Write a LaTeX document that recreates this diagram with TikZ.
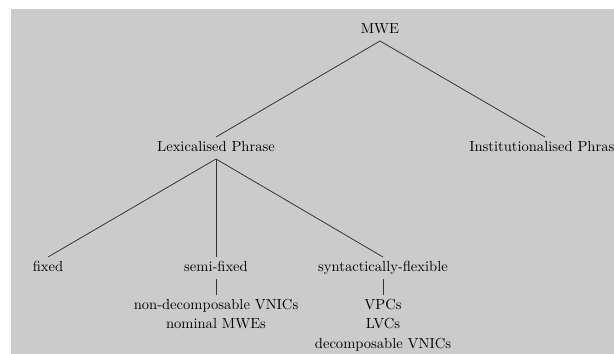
\documentclass[tikz,border=0pt]{standalone}
\usepackage{tikz}
\usetikzlibrary{positioning}
\definecolor{bgGray}{HTML}{CBCBCB}
\definecolor{lineDark}{HTML}{333333}
\tikzset{
  treenode/.style={inner sep=3pt, text height=7pt, text depth=2pt, font=\fontsize{10.2}{12}\selectfont},
  listnode/.style={align=center, inner sep=3pt, font=\fontsize{10.2}{13.5}\selectfont},
  branch/.style={draw=lineDark, line width=0.55pt},
}
\begin{document}
\begin{tikzpicture}[x=0.7pt, y=-0.7pt]
    \clip (0,0) rectangle (614,354);
    \fill[bgGray] (11,9) rectangle (614,354);
    \node[treenode] (mwe) at (380,30) {MWE};
    \node[treenode] (lex) at (216,148) {Lexicalised Phrase};
    \node[treenode] (inst) at (545,148) {Institutionalised Phrase};
    \node[treenode] (fixed) at (48,268) {fixed};
    \node[treenode] (semi) at (216,268) {semi-fixed};
    \node[treenode] (synt) at (383,268) {syntactically-flexible};
    \node[listnode, below=11pt of semi] (semilist) {non-decomposable VNICs\\nominal MWEs};
    \node[listnode, below=11pt of synt] (syntlist) {VPCs\\LVCs\\decomposable VNICs};
    \draw[branch] (mwe.south) -- (lex.north); \draw[branch] (mwe.south) -- (inst.north);
    \draw[branch] (lex.south) -- (fixed.north); \draw[branch] (lex.south) -- (semi.north);
    \draw[branch] (lex.south) -- (synt.north);
    \draw[branch] (semi.south) -- (semilist.north); \draw[branch] (synt.south) -- (syntlist.north);
  \end{tikzpicture}
\end{document}
